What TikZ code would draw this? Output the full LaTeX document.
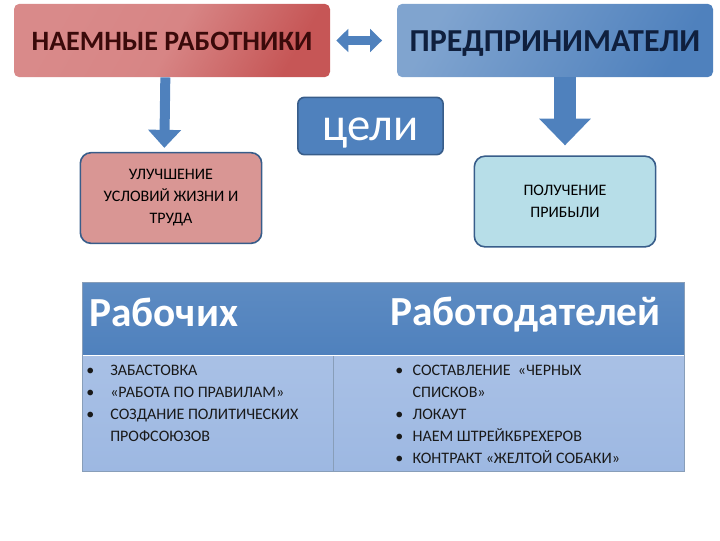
\documentclass[tikz,border=0pt]{standalone}
\usepackage{fontspec}
\usepackage{array}
\setmainfont{Carlito}
\usetikzlibrary{arrows.meta,calc}
\definecolor{accblue}{HTML}{4F81BD}
\definecolor{edgeblue}{HTML}{385D8A}
\definecolor{pinkfill}{HTML}{D99694}
\definecolor{cyanfill}{HTML}{B7DEE8}
\definecolor{bodyblue}{HTML}{9DB8E2}
\definecolor{redlight}{HTML}{D98A8A}
\definecolor{reddark}{HTML}{C65656}
\definecolor{redtext}{HTML}{3A0A0A}
\definecolor{navytext}{HTML}{0F1F3D}
\tikzset{
  px/.style={x=0.75pt,y=-0.75pt},
  topbox/.style={rounded corners=4pt, minimum width=237pt, minimum height=55pt, inner sep=0pt},
  goalbox/.style={rounded corners=8pt, draw=edgeblue, line width=1.2pt, minimum width=136pt, minimum height=68pt, align=center, inner sep=0pt, font=\fontsize{12pt}{16.5pt}\selectfont},
  blockarrow/.style={draw=accblue, line width=#1},
  cellhead/.style={anchor=west, text=white, font=\bfseries\fontsize{31pt}{36pt}\selectfont, inner sep=0pt},
  listnode/.style={anchor=north west, inner sep=0pt, text=black!90, font=\fontsize{12pt}{16.5pt}\selectfont},
}
\newcolumntype{L}[1]{>{\raggedright\arraybackslash}p{#1}}
\begin{document}
\begin{tikzpicture}[px]
\useasboundingbox (0,0) rectangle (720,540);
% top boxes
\node[topbox, left color=redlight, right color=reddark, middle color=redlight!90!reddark, shading angle=60] (workers) at (172,40.5) {};
\node[text=redtext, font=\bfseries\fontsize{21pt}{24pt}\selectfont] at ([yshift=-1pt]workers.center) {НАЕМНЫЕ РАБОТНИКИ};
\node[topbox, left color=accblue!72!white, right color=accblue, shading angle=60] (owners) at (555,40.5) {};
\node[text=navytext, font=\bfseries\fontsize{24pt}{28pt}\selectfont] at ([yshift=-2.5pt]owners.center) {ПРЕДПРИНИМАТЕЛИ};
% goal label
\node[fill=accblue, draw=edgeblue, line width=1.2pt, rounded corners=5pt, minimum width=109pt, minimum height=43pt, inner sep=0pt] (goals) at (370.5,126) {};
\node[text=white, font=\fontsize{35pt}{40pt}\selectfont] at ([yshift=-5pt]goals.center) {цели};
% goal boxes
\node[goalbox, fill=pinkfill] (better) at (171,198) {УЛУЧШЕНИЕ\\УСЛОВИЙ ЖИЗНИ И\\ТРУДА};
\node[goalbox, fill=cyanfill] (profit) at (565,201.5) {ПОЛУЧЕНИЕ\\ПРИБЫЛИ};
% arrows
\draw[blockarrow=7.5pt, -{Triangle[width=24pt, length=13.5pt]}] ([xshift=-5pt]workers.south) -- ([xshift=-5pt,yshift=3pt]better.north);
\draw[blockarrow=16.5pt, -{Triangle[width=37.5pt, length=20pt]}] (owners.south -| profit.north) -- ([yshift=7.5pt]profit.north);
\draw[blockarrow=6.5pt, {Triangle[width=17pt, length=9pt]}-{Triangle[width=17pt, length=9pt]}, shorten <=4.5pt, shorten >=11pt] (workers.east) -- (owners.west);
% table
\path[top color=accblue!92!white, bottom color=accblue] (82,282) rectangle (684,355);
\path[top color=bodyblue!88!white, bottom color=bodyblue] (82,356) rectangle (684,471);
\draw[white, line width=1.2pt] (82,355.5) -- (684,355.5);
\draw[edgeblue!60, line width=0.5pt] (82,282) rectangle (684,471);
\coordinate (split) at (333,356);
\coordinate (splitend) at (333,471);
\draw[edgeblue!60, line width=0.6pt] (split) -- (splitend);
\node[cellhead] (hworkers) at (89,312) {Рабочих};
\node[cellhead] (hemployers) at (390,315) {Работодателей};
\node[listnode] (lworkers) at (86,360) {%
\begin{tabular}{@{}p{18pt}@{}L{170pt}@{}}
\textbullet & ЗАБАСТОВКА\\
\textbullet & «РАБОТА ПО ПРАВИЛАМ»\\
\textbullet & СОЗДАНИЕ ПОЛИТИЧЕСКИХ ПРОФСОЮЗОВ\\
\end{tabular}};
\node[listnode] (lemployers) at (395,360) {%
\begin{tabular}{@{}p{13pt}@{}L{160pt}@{}}
\textbullet & СОСТАВЛЕНИЕ \ «ЧЕРНЫХ СПИСКОВ»\\
\textbullet & ЛОКАУТ\\
\textbullet & НАЕМ ШТРЕЙКБРЕХЕРОВ\\
\textbullet & КОНТРАКТ «ЖЕЛТОЙ СОБАКИ»\\
\end{tabular}};
\end{tikzpicture}
\end{document}
